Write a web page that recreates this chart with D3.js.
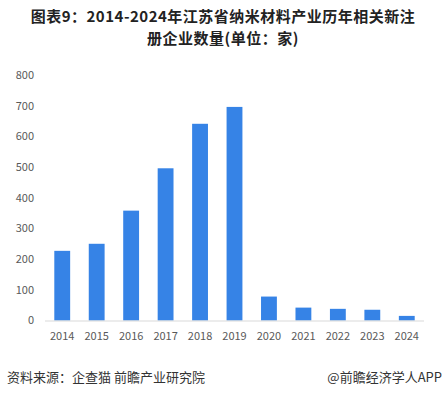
<!DOCTYPE html>
<html>
<head>
    <meta charset="UTF-8">
    <title>江苏省纳米材料产业历年相关新注册企业数量</title>
    <style>
        body { margin: 0; background: #fff; }
        svg text { font-family: "Noto Sans CJK SC", "Noto Sans", sans-serif; }
    </style>
</head>
<body>
    <svg></svg>
    <script src="https://d3js.org/d3.v7.min.js"></script>
    <script>
        const years = ["2014", "2015", "2016", "2017", "2018", "2019", "2020", "2021", "2022", "2023", "2024"];
        const counts = [227, 250, 358, 496, 641, 696, 78, 42, 38, 35, 15];
        const yTicks = [0, 100, 200, 300, 400, 500, 600, 700, 800];
        const titleLines = ["图表9：2014-2024年江苏省纳米材料产业历年相关新注", "册企业数量(单位：家)"];

        let width = 446,
            height = 397;

        let svg = d3.select("svg")
            .attr("width", width)
            .attr("height", height);

        // title, two lines
        svg.append("g")
            .attr("font-weight", "bold")
            .attr("font-size", 15)
            .attr("letter-spacing", 0.5)
            .attr("fill", "#222")
            .attr("text-anchor", "middle")
            .selectAll("text")
            .data(titleLines)
            .enter().append("text")
            .attr("x", 223)
            .attr("y", (d, i) => 22 + i * 22)
            .text(d => d);

        const x = d3.scaleBand()
            .domain(years)
            .range([45, 424])
            .paddingInner(0.54)
            .paddingOuter(0.27);

        const y = d3.scaleLinear()
            .domain([0, 800])
            .range([320.5, 75]);

        // y axis labels
        svg.append("g")
            .selectAll("text")
            .data(yTicks)
            .enter().append("text")
            .attr("x", 34)
            .attr("y", d => y(d))
            .attr("dy", "0.35em")
            .attr("text-anchor", "end")
            .attr("font-size", 11)
            .attr("fill", "#595959")
            .text(d => d);

        // bars
        svg.append("g")
            .selectAll("rect")
            .data(counts)
            .enter().append("rect")
            .attr("x", (d, i) => x(years[i]))
            .attr("y", d => y(d))
            .attr("width", x.bandwidth())
            .attr("height", d => y(0) - y(d))
            .attr("fill", "#3683e6");

        // baseline
        svg.append("line")
            .attr("x1", 45).attr("x2", 424)
            .attr("y1", y(0) + 0.5).attr("y2", y(0) + 0.5)
            .attr("stroke", "#d9d9d9")
            .attr("stroke-width", 1);

        // x labels
        svg.append("g")
            .selectAll("text")
            .data(years)
            .enter().append("text")
            .attr("x", d => x(d) + x.bandwidth() / 2)
            .attr("y", 340)
            .attr("text-anchor", "middle")
            .attr("font-size", 11)
            .attr("fill", "#595959")
            .text(d => d);

        // footer
        svg.append("text")
            .attr("x", 7).attr("y", 382)
            .attr("font-size", 13)
            .attr("fill", "#333")
            .text("资料来源：企查猫 前瞻产业研究院");
        svg.append("text")
            .attr("x", 442).attr("y", 382)
            .attr("text-anchor", "end")
            .attr("font-size", 13)
            .attr("fill", "#333")
            .text("@前瞻经济学人APP");
    </script>
</body>
</html>
